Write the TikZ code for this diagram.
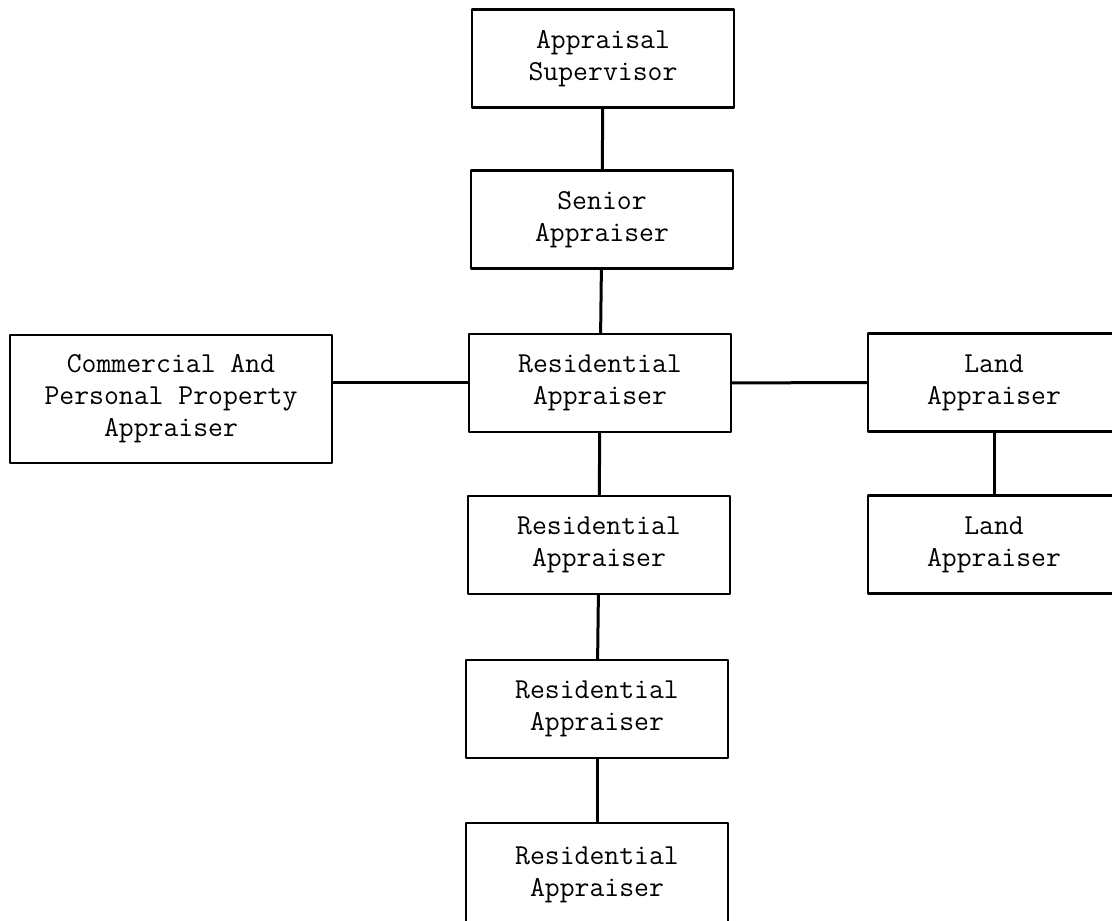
\documentclass[tikz,border=0pt]{standalone}
\usepackage{fontspec}
\begin{document}
\begin{tikzpicture}[line join=bevel,
  post/.style={draw,line width=2.4bp,align=center,inner sep=0pt,
    minimum width=262bp,minimum height=98bp,
    font=\ttfamily\fontsize{29}{32}\selectfont},
  link/.style={black,line width=3bp}]
%%
\useasboundingbox (0bp,0bp) rectangle (1112bp,921bp);
\clip (0bp,0bp) rectangle (1112bp,921bp);
\node (sup) at (603bp,862.5bp) [post] {Appraisal\\Supervisor};
  \node (sen) at (602bp,701.5bp) [post] {Senior\\Appraiser};
  \node (res_1) at (600bp,538bp) [post] {Residential\\Appraiser};
  \node (com) at (171bp,522bp) [post,minimum width=322bp,minimum height=128bp] {Commercial And\\Personal Property\\Appraiser};
  \node (land_1) at (994bp,538.5bp) [post,minimum width=252bp] {Land\\Appraiser};
  \node (res_2) at (599bp,376bp) [post] {Residential\\Appraiser};
  \node (land_2) at (994bp,376.5bp) [post,minimum width=252bp] {Land\\Appraiser};
  \node (res_3) at (597bp,212bp) [post] {Residential\\Appraiser};
  \node (res_4) at (597bp,46bp) [post,minimum height=104bp] {Residential\\Appraiser};
  \draw [link] (sup) -- (sen);
  \draw [link] (sen) -- (res_1);
  \draw [link] (com.east |- res_1.west) -- (res_1.west);
  \draw [link] (res_1) -- (land_1);
  \draw [link] (land_1) -- (land_2);
  \draw [link] (res_1) -- (res_2);
  \draw [link] (res_2) -- (res_3);
  \draw [link] (res_3) -- (res_4);
%
\end{tikzpicture}
\end{document}
